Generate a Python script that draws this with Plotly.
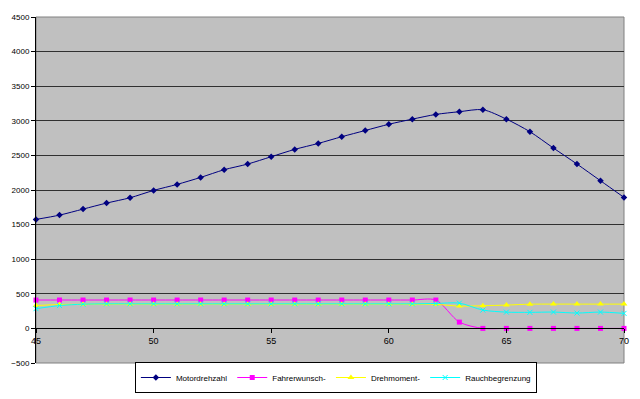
import plotly.graph_objects as go

x_vals = list(range(45, 71))
motordrehzahl = [1575, 1637, 1724, 1811, 1888, 1994, 2081, 2182, 2293, 2375,
                 2481, 2587, 2673, 2770, 2860, 2950, 3024, 3092, 3131, 3160,
                 3024, 2842, 2606, 2375, 2134, 1893]
fahrerwunsch = [410, 410, 410, 410, 410, 410, 410, 410, 410, 410,
                410, 410, 410, 410, 410, 410, 410, 410, 91, 0,
                0, 0, 0, 0, 0, 0]
drehmoment = [330, 345, 348, 350, 350, 350, 350, 350, 350, 350,
              350, 350, 350, 350, 350, 350, 348, 348, 322, 328,
              337, 350, 351, 351, 351, 351]
rauchbegrenzung = [285, 330, 350, 355, 355, 355, 355, 355, 355, 355,
                   355, 355, 355, 355, 355, 355, 355, 360, 365, 265,
                   235, 232, 236, 222, 236, 217]

names = ["Motordrehzahl", "Fahrerwunsch-", "Drehmoment-", "Rauchbegrenzung"]
colors = ["#000080", "#FF00FF", "#FFFF00", "#00FFFF"]
symbols = ["diamond", "square", "triangle-up", "x-thin"]
sizes = [5, 5, 6, 5]
series = [motordrehzahl, fahrerwunsch, drehmoment, rauchbegrenzung]

fig = go.Figure()
for name, col, sym, sz, ys in zip(names, colors, symbols, sizes, series):
    marker = dict(symbol=sym, size=sz, color=col)
    if sym == "x-thin":
        marker["line"] = dict(color=col, width=1)
    fig.add_trace(go.Scatter(
        x=x_vals, y=ys, name=name, mode="lines+markers",
        line=dict(color=col, width=1, shape="spline", smoothing=0.8),
        marker=marker, cliponaxis=False,
    ))

fig.update_layout(
    width=640, height=399,
    margin=dict(l=36, r=16, t=17, b=36, autoexpand=False),
    paper_bgcolor="white",
    plot_bgcolor="#C0C0C0",
    font=dict(family="Liberation Sans, Arial, sans-serif", size=8, color="black"),
    showlegend=True,
    legend=dict(
        orientation="h", x=0.51, xanchor="center",
        yref="container", y=0.015, yanchor="bottom",
        bordercolor="black", borderwidth=1, bgcolor="white",
        font=dict(size=8), itemwidth=30, tracegroupgap=0,
    ),
    shapes=[dict(type="rect", xref="paper", yref="paper", x0=0, x1=1, y0=0, y1=1,
                 line=dict(color="#808080", width=1), layer="below")],
)
fig.update_xaxes(
    range=[45, 70], dtick=5, tick0=45, anchor="free", position=0.1,
    showline=True, linecolor="black", linewidth=1,
    ticks="outside", ticklen=4, tickcolor="black",
    showgrid=False, zeroline=False, automargin=False,
    tickfont=dict(size=9),
)
fig.update_yaxes(
    range=[-500, 4500], dtick=500, tick0=0,
    showline=True, linecolor="black", linewidth=1,
    ticks="outside", ticklen=4, tickcolor="black",
    showgrid=True, gridcolor="#303030", gridwidth=1,
    zeroline=True, zerolinecolor="black", zerolinewidth=1,
    automargin=False,
    tickfont=dict(size=8),
)

fig.write_html("out.html", config={"displayModeBar": False},
               post_script="document.body.style.margin='0px';")
